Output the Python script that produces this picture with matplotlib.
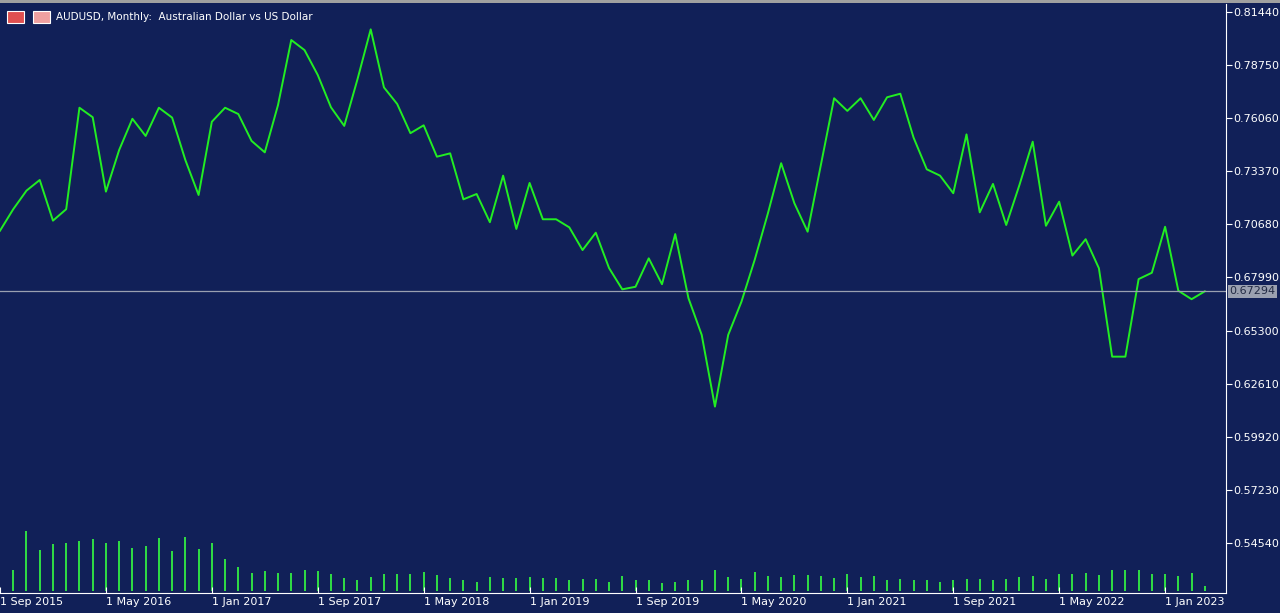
import matplotlib
matplotlib.use("Agg")
import matplotlib.pyplot as plt
import matplotlib.patches as mpatches

# Monthly closes, Sep 2015 .. Apr 2023
closes = [
    0.7036, 0.7145, 0.7239, 0.7293, 0.7087, 0.7145, 0.7659, 0.7611, 0.7234, 0.7445,
    0.7603, 0.7516, 0.7659, 0.7609, 0.7394, 0.7217, 0.7588, 0.7659, 0.7627, 0.7491,
    0.7433, 0.7673, 0.8002, 0.7951, 0.7825, 0.7661, 0.7567, 0.7803, 0.8056, 0.7762,
    0.7678, 0.7530, 0.7570, 0.7411, 0.7428, 0.7195, 0.7222, 0.7079, 0.7315, 0.7045,
    0.7278, 0.7094, 0.7094, 0.7053, 0.6938, 0.7026, 0.6847, 0.6739, 0.6752, 0.6896,
    0.6765, 0.7019, 0.6694, 0.6508, 0.6145, 0.6508, 0.6676, 0.6888, 0.7124, 0.7378,
    0.7175, 0.7031, 0.7369, 0.7707, 0.7643, 0.7707, 0.7597, 0.7712, 0.7730, 0.7508,
    0.7347, 0.7315, 0.7226, 0.7524, 0.7129, 0.7273, 0.7065, 0.7268, 0.7487, 0.7061,
    0.7183, 0.6910, 0.6993, 0.6846, 0.6398, 0.6398, 0.6791, 0.6823, 0.7056, 0.6732,
    0.6689, 0.6729,
]
# tick volume (relative units)
volumes = [
    60, 63, 180, 122, 140, 145, 150, 155, 143, 150, 128, 135, 158, 120, 162, 125,
    143, 97, 73, 55, 60, 53, 55, 63, 60, 50, 40, 32, 43, 50, 50, 50,
    58, 48, 38, 33, 28, 42, 40, 38, 43, 38, 38, 32, 35, 35, 26, 45,
    33, 33, 25, 28, 32, 33, 63, 42, 37, 58, 45, 42, 48, 47, 45, 40,
    50, 42, 45, 32, 37, 32, 32, 28, 33, 37, 37, 33, 37, 42, 45, 37,
    50, 50, 53, 48, 62, 63, 62, 52, 52, 45, 53, 15,
]
date_labels = ["1 Sep 2015", "1 May 2016", "1 Jan 2017", "1 Sep 2017", "1 May 2018",
               "1 Jan 2019", "1 Sep 2019", "1 May 2020", "1 Jan 2021", "1 Sep 2021",
               "1 May 2022", "1 Jan 2023"]
price_ticks = [0.81440, 0.78750, 0.76060, 0.73370, 0.70680, 0.67990,
               0.65300, 0.62610, 0.59920, 0.57230, 0.54540]
last_price = 0.67294

BG = "#112058"
GREEN = "#22ee22"
W, H = 1280, 613

fig = plt.figure(figsize=(W / 100, H / 100), dpi=100, facecolor=BG)
ax = fig.add_axes([0, 20 / H, 1226 / W, 589 / H], facecolor=BG)
axv = ax.twinx()
axv.set_zorder(0)
ax.set_zorder(1)
ax.patch.set_visible(False)

x = list(range(len(closes)))
ax.plot(x, closes, color=GREEN, lw=1.4)
ax.axhline(last_price, color="#9aa0b0", lw=0.9)

axv.vlines(x[1:], 0, volumes[1:], color="#33ee44", lw=1.3)
axv.set_ylim(-6, 1761)
axv.axis("off")

ax.set_xlim(0.075, 92.6)
ax.set_ylim(0.52007, 0.81845)

ax.yaxis.tick_right()
ax.set_yticks(price_ticks)
ax.set_yticklabels([f"{p:.5f}" for p in price_ticks])
ax.tick_params(axis="y", colors="white", labelcolor="white", labelsize=8,
               length=4, direction="out", pad=1)
ax.set_xticks(range(0, len(closes), 8))
ax.set_xticklabels(date_labels, ha="left")
ax.tick_params(axis="x", colors="white", labelcolor="white", labelsize=8,
               length=4, direction="in", pad=3)

for s in ["top", "left"]:
    ax.spines[s].set_visible(False)
ax.spines["right"].set_color("white")
ax.spines["bottom"].set_color("white")

ax.text(1.003, last_price, f"{last_price:.5f}", transform=ax.get_yaxis_transform(),
        va="center", ha="left", fontsize=8, color="#222a44",
        bbox=dict(boxstyle="square,pad=0.15", fc="#9aa0b0", ec="none"))

# top strip and title
fig.patches.append(mpatches.Rectangle((0, 1 - 3 / H), 1, 3 / H, transform=fig.transFigure,
                                      fc="#a0a0a0", ec="none"))
fig.patches.append(mpatches.Rectangle((7 / W, 1 - 23 / H), 17 / W, 12 / H,
                                      transform=fig.transFigure, fc="#e05050", ec="white", lw=0.8))
fig.patches.append(mpatches.Rectangle((33 / W, 1 - 23 / H), 17 / W, 12 / H,
                                      transform=fig.transFigure, fc="#f0a0a0", ec="white", lw=0.8))
fig.text(56 / W, 1 - 17 / H, "AUDUSD, Monthly:  Australian Dollar vs US Dollar",
         color="white", fontsize=7.5, va="center", ha="left")

fig.savefig("out.png", dpi=100, facecolor=BG)
